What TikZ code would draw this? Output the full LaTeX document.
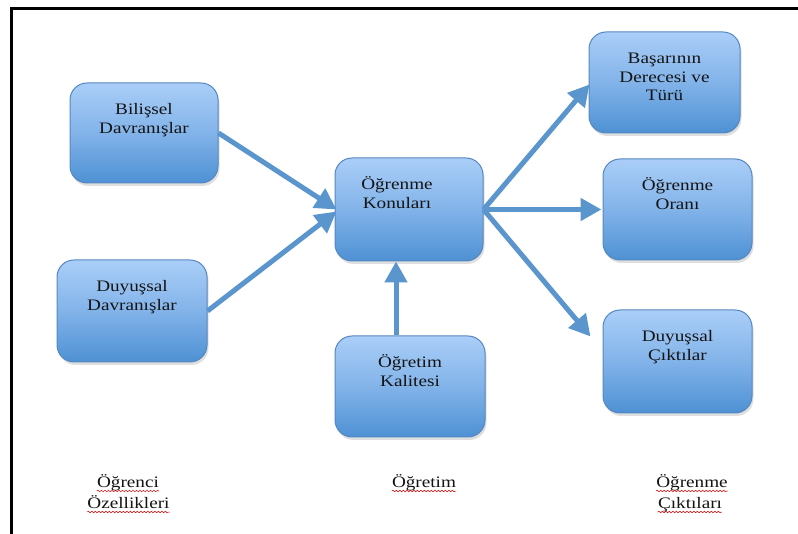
\documentclass[tikz,border=0pt]{standalone}
\usepackage{fontspec}
\setmainfont{Liberation Serif}[FakeStretch=1.2]
\usetikzlibrary{arrows.meta,shadows,decorations.pathmorphing}
\definecolor{boxtop}{RGB}{170,206,248}
\definecolor{boxmid}{RGB}{130,179,233}
\definecolor{boxbot}{RGB}{78,145,212}
\definecolor{boxline}{RGB}{86,136,192}
\definecolor{arrowc}{RGB}{91,149,205}
\definecolor{txtc}{RGB}{20,20,20}
\begin{document}
\begin{tikzpicture}[x=1pt,y=-1pt,
  box/.style={rectangle, rounded corners=17pt, draw=boxline, line width=1pt,
    top color=boxtop, bottom color=boxbot, middle color=boxmid,
    minimum width=149pt, minimum height=101pt, inner sep=0pt,
    drop shadow={opacity=0.25, shadow xshift=1.5pt, shadow yshift=-3pt}},
  txt/.style={anchor=north, align=center, inner sep=0pt, text=txtc,
    font=\fontsize{16}{18.5}\selectfont},
  lbl/.style={anchor=base, inner sep=0pt, text=txtc,
    font=\fontsize{16}{18.5}\selectfont},
  arr/.style={draw=arrowc, line width=5pt,
    -{Triangle[length=21pt,width=22pt]}},
  wavy/.style={draw=red!85!black, line width=0.5pt,
    decorate, decoration={snake, segment length=3.5pt, amplitude=0.8pt}},
  frame/.style={draw=black, line width=2.5pt}
]
\useasboundingbox (0,0) rectangle (798,534);
\fill[white] (0,0) rectangle (798,534);
\coordinate (fa) at (11.5,534);
\coordinate (fb) at (11.5,8.5);
\coordinate (fc) at (798,8.5);
\draw[frame] (fa) -- (fb) -- (fc);

% boxes
\node[box, minimum width=148pt, minimum height=100pt] (bil) at (144,133) {};
\node[box, minimum width=150pt, minimum height=102pt] (duy) at (132,311) {};
\node[box, minimum width=148pt, minimum height=103pt] (kon) at (409,209.5) {};
\node[box, minimum width=150pt, minimum height=101pt] (kal) at (410,386.5) {};
\node[box, minimum width=151pt, minimum height=101pt] (bas) at (664.5,82.5) {};
\node[box, minimum width=149pt, minimum height=101pt] (ora) at (677.5,209.5) {};
\node[box, minimum width=149pt, minimum height=103pt] (cik) at (677.5,361.5) {};

% box texts
\node[txt] (tbil) at ([yshift=-19pt]bil.north) {\strut Bilişsel\\Davranışlar};
\node[txt] (tduy) at ([yshift=-19pt]duy.north) {\strut Duyuşsal\\Davranışlar};
\node[txt] (tkon) at ([xshift=-12pt,yshift=-19pt]kon.north) {\strut Öğrenme\\Konuları};
\node[txt] (tkal) at ([yshift=-19pt]kal.north) {\strut Öğretim\\Kalitesi};
\node[txt] (tbas) at ([yshift=-19pt]bas.north) {\strut Başarının\\Derecesi ve\\Türü};
\node[txt] (tora) at ([yshift=-19pt]ora.north) {\strut Öğrenme\\Oranı};
\node[txt] (tcik) at ([yshift=-19pt]cik.north) {\strut Duyuşsal\\Çıktılar};

% connectors
\draw[arr] (bil.east) -- ([xshift=2pt]kon.west);
\draw[arr] (duy.east) -- ([xshift=2pt,yshift=-2pt]kon.west);
\draw[arr] ([xshift=-14pt]kal.north) -- ([xshift=-13pt]kon.south);
\draw[arr] (kon.east) -- ([xshift=1pt,yshift=-2pt]bas.west);
\draw[arr] (kon.east) -- ([xshift=-1pt]ora.west);
\coordinate (cikin) at ([xshift=-12pt,yshift=25pt]cik.west);
\draw[arr] (kon.east) -- (cikin);

% bottom labels
\node[lbl] (l1a) at (128,487) {Öğrenci};
\node[lbl] (l1b) at (128.5,508) {Özellikleri};
\node[lbl] (l2a) at (424,487) {Öğretim};
\node[lbl] (l3a) at (692,487) {Öğrenme};
\node[lbl] (l3b) at (690,508) {Çıktıları};
\foreach \n in {l1a,l1b,l2a,l3a,l3b}{
  \draw[wavy] ([yshift=-4pt]\n.base west) -- ([yshift=-4pt]\n.base east);
}
\end{tikzpicture}
\end{document}
